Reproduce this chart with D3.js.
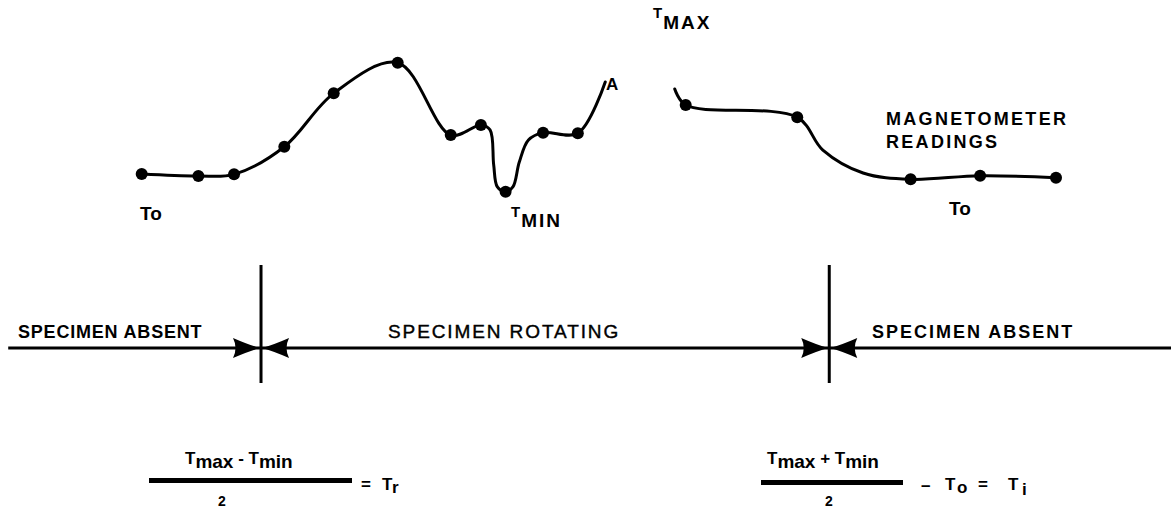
<!DOCTYPE html>
<html><head><meta charset="utf-8">
<script src="https://cdn.jsdelivr.net/npm/d3@7"></script>
<style>
html,body{margin:0;padding:0;background:#fff;}
svg{display:block;font-family:"Liberation Sans",Arial,Helvetica,sans-serif;}
</style></head><body>
<svg id="chart" width="1171" height="508"></svg>
<script>
// Magnetometer readings taken before, during and after specimen rotation.
// Time and reading are in arbitrary units.
const leftTime = [0, 6.2, 10.1, 15.6, 21.0, 28.0, 33.8, 37.1, 39.8, 43.9, 47.7];
const leftReading = [1.73, 1.60, 1.71, 3.55, 7.11, 9.15, 4.33, 5.00, 0.55, 4.49, 4.45];
// further points along the pen trace (no reading taken there)
const leftTraceTime = [38.1, 38.5, 38.9, 40.6, 41.3, 42.3, 50.7];
const leftTraceReading = [4.67, 2.33, 0.87, 0.87, 2.53, 4.0, 7.87];

const rightTime = [59.5, 71.7, 84.1, 91.7, 100];
const rightReading = [6.33, 5.51, 1.38, 1.62, 1.49];
const rightTraceTime = [58.3, 74.5, 78.9];
const rightTraceReading = [7.4, 3.33, 1.8];

// phase timeline
const timelineExtent = [-14.6, 112.6];
const phaseBounds = [13.05, 75.2];
const phaseLabels = ["SPECIMEN ABSENT", "SPECIMEN ROTATING", "SPECIMEN ABSENT"];

const svg = d3.select("#chart");
const x = d3.scaleLinear().domain([0, 100]).range([141.7, 1056]);
const y = d3.scaleLinear().domain([0, 10]).range([200, 50]);

function zipPts(t, v) { return t.map((d, i) => ({t: d, v: v[i]})); }
const leftReadings = zipPts(leftTime, leftReading);
const rightReadings = zipPts(rightTime, rightReading);
const leftTrace = leftReadings.concat(zipPts(leftTraceTime, leftTraceReading)).sort((a, b) => a.t - b.t);
const rightTrace = rightReadings.concat(zipPts(rightTraceTime, rightTraceReading)).sort((a, b) => a.t - b.t);

const line = d3.line().x(d => x(d.t)).y(d => y(d.v)).curve(d3.curveCatmullRom.alpha(0.5));

const plot = svg.append("g");
[leftTrace, rightTrace].forEach(tr => {
  plot.append("path").datum(tr).attr("d", line)
    .attr("fill", "none").attr("stroke", "#000").attr("stroke-width", 3)
    .attr("stroke-linejoin", "round").attr("stroke-linecap", "round");
});
plot.selectAll("circle.reading").data(leftReadings.concat(rightReadings)).join("circle")
  .attr("class", "reading")
  .attr("cx", d => x(d.t)).attr("cy", d => y(d.v)).attr("r", 6).attr("fill", "#000");

// labels on the readings
const lab = svg.append("g").attr("font-weight", "bold").attr("fill", "#000");
lab.append("text").attr("x", 140).attr("y", 220).attr("font-size", 19).text("To");
lab.append("text").attr("x", 949).attr("y", 215).attr("font-size", 19).text("To");
lab.append("text").attr("x", 606).attr("y", 90).attr("font-size", 17).text("A");

function subLabel(xp, yp, main, sub, drop) {
  const t = lab.append("text").attr("x", xp).attr("y", yp);
  t.append("tspan").attr("font-size", 15).text(main);
  t.append("tspan").attr("font-size", 19).attr("dx", 1).attr("dy", drop).attr("letter-spacing", 2).text(sub);
}
subLabel(653, 18, "T", "MAX", 11);
subLabel(511, 217, "T", "MIN", 10);

lab.append("text").attr("x", 886).attr("y", 125).attr("font-size", 18).attr("letter-spacing", 2.3).text("MAGNETOMETER");
lab.append("text").attr("x", 886).attr("y", 148).attr("font-size", 18).attr("letter-spacing", 2.3).text("READINGS");

// phase timeline
const yLine = 348;
const tl = svg.append("g");
tl.append("line").attr("x1", x(timelineExtent[0])).attr("x2", x(timelineExtent[1]))
  .attr("y1", yLine).attr("y2", yLine).attr("stroke", "#000").attr("stroke-width", 3);
phaseBounds.forEach(b => {
  tl.append("line").attr("x1", x(b)).attr("x2", x(b)).attr("y1", 265).attr("y2", 383)
    .attr("stroke", "#000").attr("stroke-width", 3);
  const tx = x(b);
  // arrow from the left pointing right, and from the right pointing left
  [-1, 1].forEach(s => {
    tl.append("path").attr("d",
      `M${tx + s},${yLine} Q${tx + s * 12},${yLine - 3} ${tx + s * 28},${yLine - 10} ` +
      `Q${tx + s * 23},${yLine} ${tx + s * 28},${yLine + 10} Q${tx + s * 12},${yLine + 3} ${tx + s},${yLine} Z`)
      .attr("fill", "#000");
  });
});
const phaseText = tl.append("g").attr("font-size", 18).attr("fill", "#000");
phaseText.append("text").attr("x", 18).attr("y", 338).attr("font-weight", "bold").attr("letter-spacing", 0.8).text(phaseLabels[0]);
phaseText.append("text").attr("x", 388).attr("y", 338).attr("font-size", 19)
  .attr("stroke", "#000").attr("stroke-width", 0.4).attr("letter-spacing", 1.9).text(phaseLabels[1]);
phaseText.append("text").attr("x", 872).attr("y", 338).attr("font-weight", "bold").attr("letter-spacing", 2).text(phaseLabels[2]);

// formulas
const eq = svg.append("g").attr("fill", "#000").attr("font-weight", "bold");
function num(xp, yp, op) {
  const t = eq.append("text").attr("x", xp).attr("y", yp);
  t.append("tspan").attr("font-size", 17).text("T");
  t.append("tspan").attr("font-size", 19).attr("dy", 4).text("max");
  t.append("tspan").attr("font-size", 17).attr("dy", -4).text(op);
  t.append("tspan").attr("font-size", 17).text("T");
  t.append("tspan").attr("font-size", 19).attr("dy", 4).text("min");
}
function put(xp, yp, s, size) {
  eq.append("text").attr("x", xp).attr("y", yp).attr("font-size", size).text(s);
}
num(185, 464, " - ");
eq.append("rect").attr("x", 149).attr("y", 478).attr("width", 203).attr("height", 5);
put(218, 506, "2", 14);
put(361, 490, "=", 17);
put(382, 490, "T", 17);
put(392, 493, "r", 17);

num(767, 464, " + ");
eq.append("rect").attr("x", 761).attr("y", 480).attr("width", 142).attr("height", 5);
put(825, 506, "2", 14);
put(921, 491, "–", 17);
put(945, 490, "T", 17);
put(957, 493, "o", 17);
put(978, 490, "=", 17);
put(1008, 490, "T", 17);
put(1022, 495, "i", 17);
</script>
</body></html>
